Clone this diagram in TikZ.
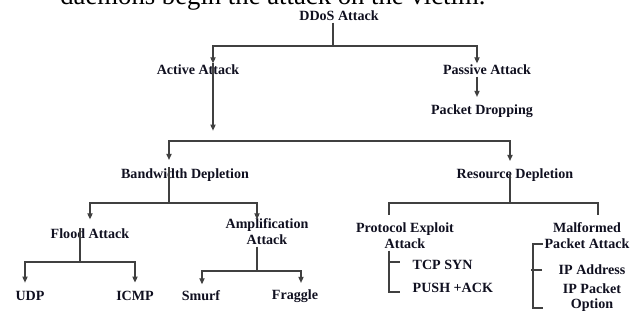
\documentclass[tikz,border=0pt]{standalone}
\usepackage{fontspec}
\setmainfont{Liberation Serif}
\usepackage{tikz}
\usetikzlibrary{calc,arrows.meta}
\definecolor{linegray}{HTML}{404040}
\definecolor{inkdark}{HTML}{101020}
\tikzset{
  label/.style={font=\fontsize{10}{11.3}\selectfont\bfseries, text=inkdark, inner sep=1pt, align=center},
  line/.style={draw=linegray, line width=0.8pt},
  arr/.style={line, -{Triangle[length=1.5mm,width=1.3mm]}}
}

\begin{document}
\begin{tikzpicture}[x=0.025cm, y=-0.025cm]
  \useasboundingbox (0,0) rectangle (640,320);
  \clip (0,0) rectangle (640,320);
  \node[anchor=base west, inner sep=0pt, font=\fontsize{19}{22}\selectfont] (intro) at (60,5) {daemons begin the attack on the victim.};

  % levels of the tree
  \node[label] (ddos) at (339,16) {DDoS Attack};
  \node[label] (active) at (198,70) {Active Attack};
  \node[label] (passive) at (487,70) {Passive Attack};
  \node[label] (drop) at (482,111) {Packet Dropping};
  \node[label] (bw) at (185,175) {Bandwidth Depletion};
  \node[label] (res) at (515,175) {Resource Depletion};
  \node[label] (flood) at (90,234) {Flood Attack};
  \node[label] (ampl) at (267,232) {Amplification\\Attack};
  \node[label] (udp) at (30,296) {UDP};
  \node[label] (icmp) at (135,296) {ICMP};
  \node[label] (smurf) at (201,296) {Smurf};
  \node[label] (fraggle) at (295,296) {Fraggle};
  \node[label] (proto) at (405,236) {Protocol Exploit\\Attack};
  \node[label, anchor=west] (tcp) at (411,265) {TCP SYN};
  \node[label, anchor=west] (push) at (411,288) {PUSH +ACK};
  \node[label] (malf) at (587,236) {Malformed\\Packet Attack};
  \node[label] (ipaddr) at (592,270) {IP Address};
  \node[label, font=\fontsize{10}{10.7}\selectfont\bfseries] (ippkt) at (592,298) {IP Packet\\Option};

  % bars
  \coordinate (b0) at (333,46);
  \coordinate (b1) at (340,141);
  \coordinate (b2) at (169,203);
  \coordinate (b3) at (80,262);
  \coordinate (b4) at (257,271);
  \coordinate (b5) at (510,203);

  \draw[line] ($(ddos.south)+(-6,0)$) -- (b0);
  \draw[arr] (b0) -| ($(active.north)+(15,0)$);
  \draw[arr] (b0) -| ($(passive.north)+(-10,0)$);
  \draw[arr] ($(passive.south)+(-10,0)$) -- ($(drop.north)+(-5,-6)$);
  \draw[arr] ($(active.north)+(15,0)$) -- ($(active.south)+(15,54)$);

  \draw[arr] (b1) -| ($(bw.north)+(-16,-7)$);
  \draw[arr] (b1) -| ($(res.north)+(-5,-6)$);

  \draw[line] ($(bw.north)+(-16,0)$) -- (b2);
  \draw[arr] (b2) -| ($(flood.north)+(0,-8)$);
  \draw[arr] (b2) -| ($(ampl.north)+(-10,2)$);

  \draw[line] ($(flood.center)+(-10,-6)$) -- (b3);
  \draw[arr] (b3) -| ($(udp.north)+(-5,-7)$);
  \draw[arr] (b3) -| ($(icmp.north)+(0,-7)$);

  \draw[line] ($(ampl.south)+(-10,0)$) -- (b4);
  \draw[arr] (b4) -| ($(smurf.north)+(1,-5)$);
  \draw[arr] (b4) -| ($(fraggle.north)+(6,-5)$);

  \draw[line] ($(res.center)+(-5,0)$) -- (b5);
  \draw[line] (b5) -| ($(proto.north)+(-16,-6)$);
  \draw[line] (b5) -| ($(malf.north)+(11,-6)$);

  % brackets
  \draw[line] ($(proto.south)+(-16,0)$) |- ($(push.west)+(-11,4)$);
  \draw[line] ($(tcp.west)+(-22,-3)$) -- ($(tcp.west)+(-11,-3)$);
  \draw[line] ($(malf.west)+(0,8)$) -| ++(-10,64) -- ++(10,0);
  \draw[line] ($(ipaddr.west)+(-15,0)$) -- ++(-11,0);
\end{tikzpicture}
\end{document}
